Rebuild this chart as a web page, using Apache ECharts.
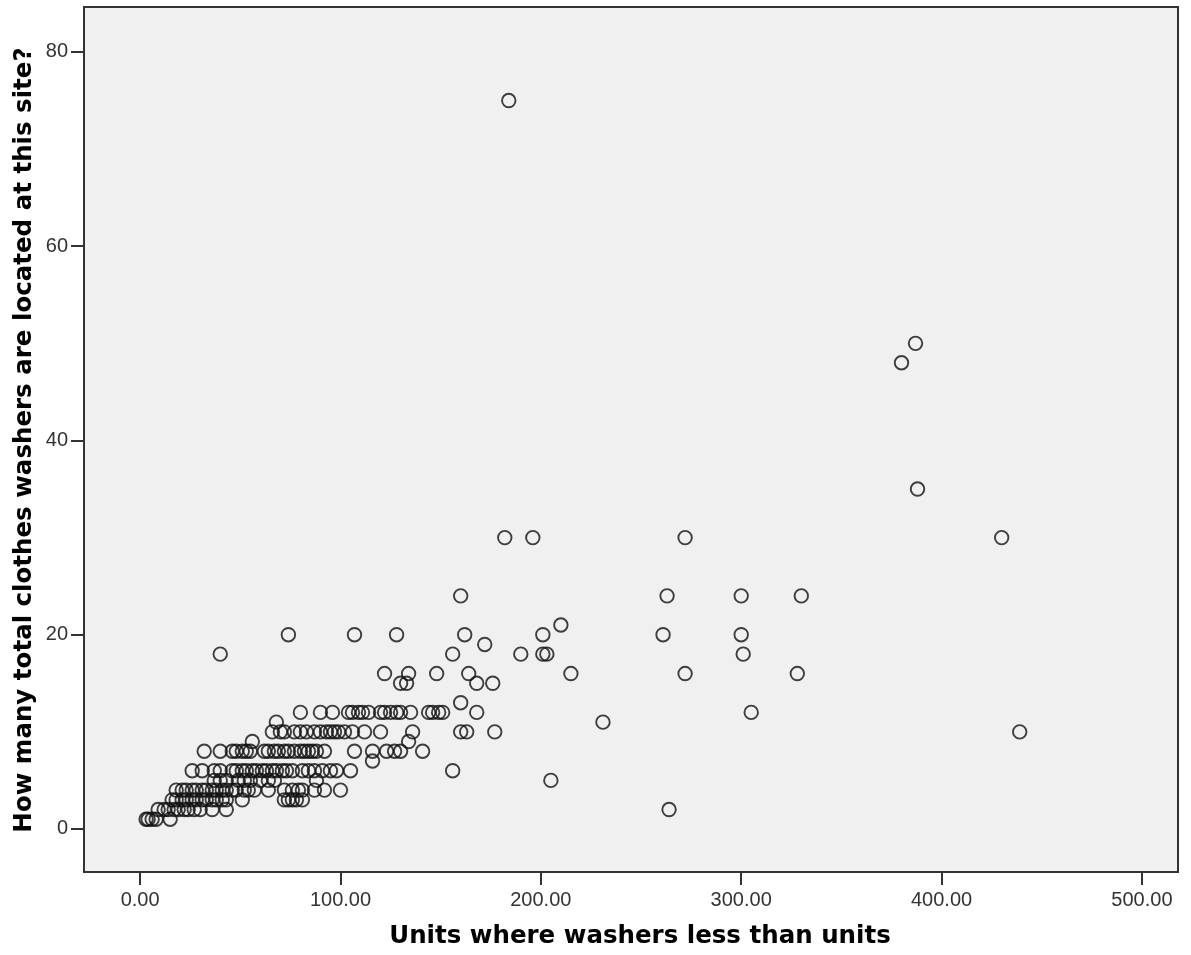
<!DOCTYPE html>
<html>
<head>
<meta charset="utf-8">
<script src="https://cdn.jsdelivr.net/npm/echarts@6/dist/echarts.min.js"></script>
<style>
  html, body { margin: 0; padding: 0; background: #ffffff; }
  #chart { width: 1191px; height: 955px; }
</style>
</head>
<body>
<div id="chart"></div>
<script>
// Washer count at a site (y) and the unit counts (x) of the sites reporting it
const washerCounts = [1, 2, 3, 4, 5, 6, 7, 8, 9, 10, 11, 12, 13, 15, 16, 18, 19, 20, 21, 24, 30, 35, 48, 50, 75];
const unitsByCount = [
  [3, 4, 6, 8, 15],
  [9, 12, 14, 17, 19, 22, 24, 27, 30, 36, 43, 264],
  [16, 18, 21, 23, 26, 28, 31, 33, 36, 38, 41, 43, 51, 72, 74, 76, 78, 81],
  [18, 21, 23, 26, 28, 31, 33, 36, 38, 41, 43, 46, 48, 52, 54, 57, 64, 72, 76, 79, 81, 87, 92, 100],
  [37, 40, 43, 49, 52, 55, 60, 64, 67, 88, 205],
  [26, 31, 37, 40, 46, 48, 51, 53, 56, 58, 61, 63, 66, 68, 71, 73, 76, 81, 84, 87, 91, 95, 98, 105, 156],
  [116],
  [32, 40, 46, 48, 51, 53, 55, 62, 64, 67, 69, 72, 74, 77, 80, 82, 84, 86, 88, 92, 107, 116, 123, 127, 130, 141],
  [56, 134],
  [66, 70, 72, 77, 80, 83, 87, 90, 93, 95, 97, 99, 102, 106, 112, 120, 136, 160, 163, 177, 439],
  [68, 231],
  [80, 90, 96, 104, 106, 109, 111, 114, 120, 122, 125, 128, 130, 135, 144, 146, 149, 151, 168, 305],
  [160],
  [130, 133, 168, 176],
  [122, 134, 148, 164, 215, 272, 328],
  [40, 156, 190, 201, 203, 301],
  [172],
  [74, 107, 128, 162, 201, 261, 300],
  [210],
  [160, 263, 300, 330],
  [182, 196, 272, 430],
  [388],
  [380],
  [387],
  [184]
];

const xTicks = [0, 100, 200, 300, 400, 500];
const yTicks = [0, 20, 40, 60, 80];

const xTitle = 'Units where washers less than units';
const yTitle = 'How many total clothes washers are located at this site?';

const points = [];
washerCounts.forEach((count, i) => {
  unitsByCount[i].forEach(u => points.push([u, count]));
});

const labelFont = { fontFamily: 'Liberation Sans, Arial, sans-serif', fontSize: 20, color: '#333333' };
const titleFont = 'bold 24.5px "DejaVu Sans", "Liberation Sans", sans-serif';

const chart = echarts.init(document.getElementById('chart'), null, { renderer: 'canvas' });
chart.setOption({
  backgroundColor: '#ffffff',
  animation: false,
  grid: {
    left: 84, right: 13, top: 7, bottom: 83,
    show: true,
    backgroundColor: '#f0f0f0',
    borderColor: '#333333',
    borderWidth: 2
  },
  xAxis: {
    type: 'value',
    min: -28, max: 518,
    splitLine: { show: false },
    axisLine: { show: false, onZero: false },
    axisTick: { show: true, customValues: xTicks, length: 13, lineStyle: { color: '#333333', width: 2 } },
    axisLabel: Object.assign({ customValues: xTicks, margin: 18, formatter: v => v.toFixed(2) }, labelFont)
  },
  yAxis: {
    type: 'value',
    min: -4.43, max: 84.63,
    splitLine: { show: false },
    axisLine: { show: false, onZero: false },
    axisTick: { show: true, customValues: yTicks, length: 13, lineStyle: { color: '#333333', width: 2 } },
    axisLabel: Object.assign({ customValues: yTicks, margin: 16, formatter: v => String(v) }, labelFont)
  },
  graphic: [
    {
      type: 'text',
      x: 640, y: 937,
      style: { text: xTitle, font: titleFont, fill: '#000000', textAlign: 'center', textVerticalAlign: 'middle' }
    },
    {
      type: 'text',
      x: 25, y: 440,
      rotation: Math.PI / 2,
      style: { text: yTitle, font: titleFont, fill: '#000000', textAlign: 'center', textVerticalAlign: 'middle' }
    }
  ],
  series: [{
    type: 'scatter',
    data: points,
    symbol: 'circle',
    symbolSize: 13.5,
    itemStyle: { color: 'rgba(0,0,0,0)', borderColor: '#111111', borderWidth: 1.9 },
    emphasis: { disabled: true }
  }]
});
</script>
</body>
</html>
